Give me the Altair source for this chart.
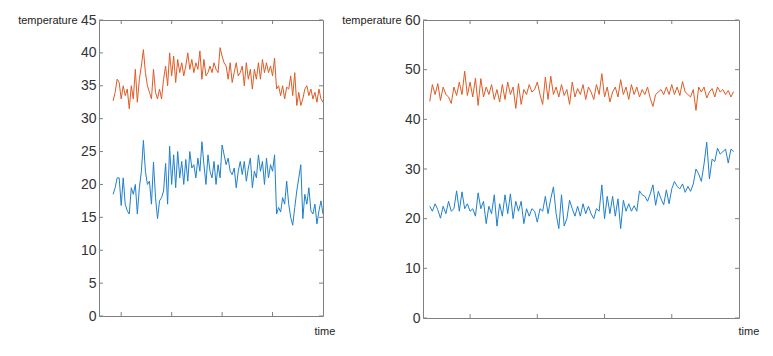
import altair as alt
import pandas as pd

# ---------------- data ----------------
# left panel (time 42..250, step 2)
left_orange = [
    32.7, 34, 36, 35.5, 33, 35, 33.5, 34.5, 31.5, 35,
    33, 37.5, 32.5, 36, 38, 40.5, 37, 35, 34, 33,
    37.5, 34, 33, 34.5, 33, 36, 38, 35, 40, 36.5,
    39.5, 35.5, 39, 37, 38.5, 36.5, 38, 40, 37.5, 39,
    37, 38.5, 37.5, 40.3, 36, 39, 36.5, 37, 38, 37,
    38.5, 37.5, 37, 40.8, 39.5, 38.5, 38, 36, 38.5, 35.5,
    37, 38.5, 36.5, 37, 38, 35, 38.5, 36, 37.5, 34.5,
    37.5, 36, 38.5, 36, 39, 37, 38.5, 37, 38, 36.5,
    39.2, 34.5, 35, 33.5, 35, 33, 34.8, 34.5, 36.5, 33.5,
    37, 32, 34, 32, 33, 34.5, 35, 33.5, 34.5, 33,
    34, 32.5, 34.5, 33, 32.5,
]
left_blue = [
    18.5, 19.5, 21, 21, 16.8, 21, 17, 16, 15.5, 19.5,
    18.5, 20, 15.5, 19.5, 22, 26.7, 22, 20, 20.5, 17,
    23.4, 18, 14.8, 17.5, 18, 19, 23.2, 17, 25.8, 20,
    24.5, 19.5, 25, 21, 23.5, 20, 23.8, 20.5, 25, 22.5,
    23, 21, 24, 22, 26.5, 23, 20, 24.5, 22, 21,
    23.5, 20, 23, 21, 26, 24.5, 23, 24, 22, 21.5,
    22.5, 19.5, 22, 23.5, 21.5, 23.5, 20.5, 22.5, 24, 19.5,
    22, 21, 24.5, 22, 23.5, 20, 24, 21, 23, 22,
    24.5, 15.5, 16.5, 15.8, 18, 17, 20.5, 17, 15, 13.8,
    16.5, 19, 21, 23, 14.8, 18.5, 17, 19.5, 16, 15.5,
    17, 14, 16, 17.5, 15.5,
]
left_time = [42 + 2 * i for i in range(len(left_orange))]

# right panel (time 20..246, step 2)
right_orange = [
    43.6, 47, 45, 47.2, 43.8, 46.5, 45, 44.5, 43.2, 46.5,
    44.8, 47.5, 45, 49.7, 44.8, 47.5, 44.5, 48.3, 42.8, 48.2,
    44.5, 46.5, 45, 47, 44, 46, 43.5, 47, 44, 47.5,
    45, 46.5, 42.2, 47.2, 43, 46, 45, 47, 45.5, 46,
    47.5, 45, 43, 48.5, 44, 48.7, 45, 46.5, 44.5, 47,
    44.8, 46, 43, 47.5, 44.5, 46.2, 45, 47, 44, 46.5,
    45.5, 44, 47, 45, 49.2, 44.5, 46.5, 43.5, 45.5, 46.5,
    44.5, 48, 45, 46.5, 44, 47, 45, 46.5, 44.5, 46,
    45, 46.5, 44.2, 42.6, 45, 45.5, 46, 45, 46.5, 45,
    47, 45, 46.5, 44.8, 47.6, 45.5, 45, 44.5, 46, 41.8,
    46.5, 45.5, 46.5, 44.3, 45.5, 46.2, 44.5, 46.5, 45.5, 46,
    45, 45.8, 44.5, 45.6,
]
right_blue = [
    22.5, 21.5, 23, 21.8, 20.1, 22.5, 21, 23.5, 21.5, 22,
    25.6, 21.5, 25.4, 22, 23, 21.5, 22, 20.5, 25.2, 22,
    23.5, 19, 22.5, 21, 24.8, 18.5, 23, 20.5, 24.8, 21,
    25, 20, 23.5, 21.5, 23.5, 19, 22, 20.5, 22, 21.5,
    19.3, 22, 21.5, 24.5, 21, 24, 26.4, 21, 18, 24.8,
    18.5, 20, 23.7, 22, 20.5, 22.5, 20.5, 23, 21, 22.5,
    21, 20, 22, 21.5, 26.8, 20, 24.5, 21, 24.5, 20.5,
    24, 18, 23.7, 21.5, 23, 21.5, 22.6, 21.5, 25.6, 24.8,
    24.5, 23.5, 25, 26.8, 22.7, 25.5, 24, 22.8, 25.8, 23,
    26, 27.5, 26.5, 26, 27, 25.3, 26.5, 25.5, 27, 30,
    29, 27.5, 31, 35.4, 28, 32, 31.5, 34.2, 33, 33.5,
    34, 31.2, 34, 33.5,
]
right_time = [20 + 2 * i for i in range(len(right_orange))]

x_ticks = [50, 100, 150, 200]
left_y_ticks = [0, 5, 10, 15, 20, 25, 30, 35, 40, 45]
right_y_ticks = [0, 10, 20, 30, 40, 50, 60]

ORANGE = "#e05a24"
BLUE = "#1f80cc"
FONT = "Liberation Sans"
FRAME = "#808080"
TICK_LEN = 4


def panel(times, orange, blue, ydom, yticks, xdom, w, h, time_dx, time_dy):
    df = pd.DataFrame(
        {"time": times * 2,
         "value": orange + blue,
         "series": ["orange"] * len(orange) + ["blue"] * len(blue)}
    )
    xs = alt.Scale(domain=xdom, nice=False, zero=False)
    ys = alt.Scale(domain=ydom, nice=False, zero=False)

    x_axis = alt.Axis(labels=False, ticks=False, domain=False, grid=False,
                      title="time", titleFont=FONT, titleFontSize=11,
                      titleFontWeight="normal", titleColor="#222",
                      titleAlign="left", titleBaseline="middle",
                      titleX=w + time_dx, titleY=time_dy)
    y_axis = alt.Axis(values=yticks, ticks=False, domain=False, grid=False,
                      labelFont=FONT, labelFontSize=14, labelColor="#333",
                      labelPadding=3,
                      title="temperature", titleFont=FONT, titleFontSize=11,
                      titleFontWeight="normal", titleColor="#222",
                      titleAngle=0, titleAlign="right", titleBaseline="middle",
                      titleX=-22, titleY=0)

    lines = alt.Chart(df).mark_line(strokeWidth=1, clip=True).encode(
        x=alt.X("time:Q", scale=xs, axis=x_axis),
        y=alt.Y("value:Q", scale=ys, axis=y_axis),
        color=alt.Color("series:N",
                        scale=alt.Scale(domain=["orange", "blue"], range=[ORANGE, BLUE]),
                        legend=None),
        detail="series:N",
    )

    ydf = pd.DataFrame({"value": yticks})
    xdf = pd.DataFrame({"time": x_ticks})

    ytick_l = alt.Chart(ydf).mark_rule(color=FRAME, strokeWidth=1).encode(
        y=alt.Y("value:Q", scale=ys, axis=y_axis),
        x=alt.value(0), x2=alt.value(TICK_LEN))
    ytick_r = alt.Chart(ydf).mark_rule(color=FRAME, strokeWidth=1).encode(
        y=alt.Y("value:Q", scale=ys, axis=y_axis),
        x=alt.value(w - TICK_LEN), x2=alt.value(w))
    xtick_b = alt.Chart(xdf).mark_rule(color=FRAME, strokeWidth=1).encode(
        x=alt.X("time:Q", scale=xs, axis=x_axis),
        y=alt.value(h - TICK_LEN), y2=alt.value(h))
    xtick_t = alt.Chart(xdf).mark_rule(color=FRAME, strokeWidth=1).encode(
        x=alt.X("time:Q", scale=xs, axis=x_axis),
        y=alt.value(0), y2=alt.value(TICK_LEN))

    return alt.layer(lines, ytick_l, ytick_r, xtick_b, xtick_t).properties(width=w, height=h)


left = panel(left_time, left_orange, left_blue, [0, 45], left_y_ticks,
             [28, 250], 224, 296, -9, 15)
right = panel(right_time, right_orange, right_blue, [0, 60], right_y_ticks,
              [15, 250], 316, 298, -1, 13)

chart = alt.hconcat(left, right, spacing=100, bounds="flush").properties(
    padding={"left": 17, "top": 12, "right": 0, "bottom": 0},
    background="white",
).configure_view(stroke=FRAME, strokeWidth=1)

chart.save("out.html", embed_options={"renderer": "svg", "actions": False})
